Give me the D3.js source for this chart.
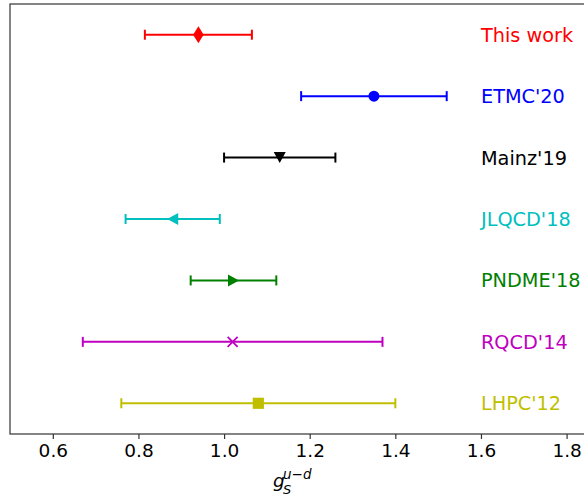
<!DOCTYPE html>
<html lang="en">
<head>
  <meta charset="UTF-8">
  <title>g_S comparison</title>
  <script src="https://cdn.jsdelivr.net/npm/d3@7"></script>
  <style>
    body { margin: 0; background: #fff; }
    text { font-family: "DejaVu Sans", sans-serif; }
  </style>
</head>
<body>
  <script>

  // Data
  var names   = ["This work", "ETMC'20", "Mainz'19", "JLQCD'18", "PNDME'18", "RQCD'14", "LHPC'12"];
  var values  = [0.94, 1.35, 1.13, 0.88, 1.022, 1.02, 1.08];
  var errors  = [0.125, 0.17, 0.13, 0.11, 0.10, 0.35, 0.32];
  var colors  = ["#ff0000", "#0000ff", "#000000", "#00bfbf", "#008000", "#bf00bf", "#bfbf00"];
  var markers = ["d", "o", "v", "<", ">", "x", "s"];
  var xTicks  = [0.6, 0.8, 1.0, 1.2, 1.4, 1.6, 1.8];

  var w = 584;
  var h = 497;
  // plot box (right edge falls just outside the picture)
  var plotLeft = 10, plotTop = 4, plotRight = 588, plotBottom = 434;

  var svg = d3.select("body").append("svg")
    .attr("width", w)
    .attr("height", h);

  var xScale = d3.scaleLinear().domain([0.5, 1.85]).range([plotLeft, plotRight]);
  var yScale = d3.scaleLinear().domain([-0.5, names.length - 0.5]).range([plotTop, plotBottom]);

  // marker shapes, centred on 0,0
  function markerPath(m) {
    switch (m) {
      case "d": return "M0,-8.5L5.3,0L0,8.5L-5.3,0Z";
      case "o": return d3.symbol(d3.symbolCircle, 95)();
      case "v": return "M-6,-5.5L6,-5.5L0,5.5Z";
      case "<": return "M-5.5,0L5.5,-6L5.5,6Z";
      case ">": return "M5.5,0L-5.5,-6L-5.5,6Z";
      case "x": return "M-5,-5L5,5M-5,5L5,-5";
      case "s": return "M-5.6,-5.6H5.6V5.6H-5.6Z";
    }
  }

  var rows = svg.selectAll("g.row")
    .data(names)
    .enter()
    .append("g")
    .attr("class", "row")
    .attr("transform", function(d, i) { return "translate(0," + yScale(i) + ")"; });

  // error bar line
  rows.append("line")
    .attr("x1", function(d, i) { return xScale(values[i] - errors[i]); })
    .attr("x2", function(d, i) { return xScale(values[i] + errors[i]); })
    .attr("stroke", function(d, i) { return colors[i]; })
    .attr("stroke-width", 2);

  // caps
  [-1, 1].forEach(function(s) {
    rows.append("line")
      .attr("x1", function(d, i) { return xScale(values[i] + s * errors[i]); })
      .attr("x2", function(d, i) { return xScale(values[i] + s * errors[i]); })
      .attr("y1", -5)
      .attr("y2", 5)
      .attr("stroke", function(d, i) { return colors[i]; })
      .attr("stroke-width", 2);
  });

  // markers
  rows.append("path")
    .attr("d", function(d, i) { return markerPath(markers[i]); })
    .attr("transform", function(d, i) { return "translate(" + xScale(values[i]) + ",0)"; })
    .attr("fill", function(d, i) { return markers[i] == "x" ? "none" : colors[i]; })
    .attr("stroke", function(d, i) { return markers[i] == "x" ? colors[i] : "none"; })
    .attr("stroke-width", 1.8);

  // labels
  rows.append("text")
    .attr("x", xScale(1.6))
    .attr("y", 0)
    .attr("dy", "0.36em")
    .attr("fill", function(d, i) { return colors[i]; })
    .style("font-size", "19.3px")
    .text(function(d) { return d; });

  // frame
  svg.append("rect")
    .attr("x", plotLeft)
    .attr("y", plotTop)
    .attr("width", plotRight - plotLeft)
    .attr("height", plotBottom - plotTop)
    .attr("fill", "none")
    .attr("stroke", "#333")
    .attr("stroke-width", 1.2);

  // X axis
  var xAxis = d3.axisBottom(xScale)
    .tickValues(xTicks)
    .tickFormat(d3.format(".1f"))
    .tickSize(5)
    .tickPadding(5);

  var gx = svg.append("g")
    .attr("transform", "translate(0," + plotBottom + ")")
    .call(xAxis);
  gx.select(".domain").remove();
  gx.selectAll(".tick line").attr("stroke", "#333").attr("stroke-width", 1.2);
  gx.selectAll(".tick text")
    .attr("fill", "#000")
    .style("font-family", "DejaVu Sans, sans-serif")
    .style("font-size", "18.5px");

  // axis label g_S^{u-d}
  var lx = 273, ly = 487;
  svg.append("text").attr("x", lx).attr("y", ly)
    .style("font-size", "18.5px").style("font-style", "italic").text("g");
  svg.append("text").attr("x", lx + 10).attr("y", ly + 7)
    .style("font-size", "13px").style("font-style", "italic").text("S");
  var sup = svg.append("text").attr("x", lx + 10).attr("y", ly - 8)
    .style("font-size", "13.5px");
  sup.append("tspan").style("font-style", "italic").text("u");
  sup.append("tspan").text("\u2212");
  sup.append("tspan").style("font-style", "italic").text("d");

  </script>
</body>
</html>
